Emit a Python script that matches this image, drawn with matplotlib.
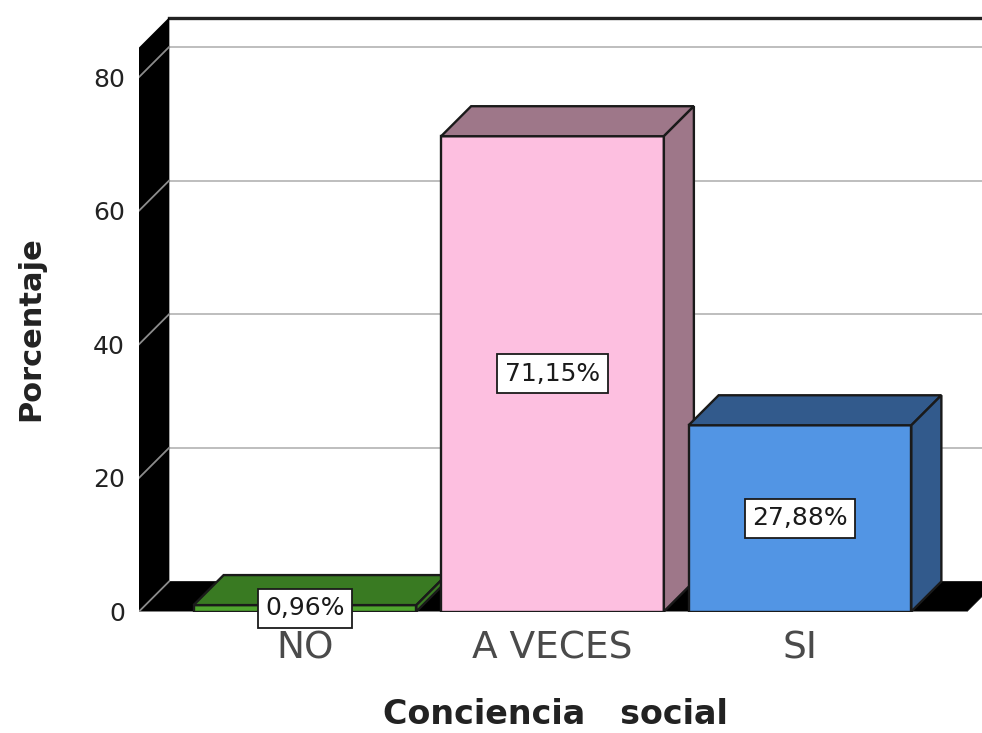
"""Porcentaje por nivel de conciencia social, SPSS style 3D bars."""

import matplotlib

matplotlib.use("Agg")
import matplotlib.pyplot as plt
from matplotlib.patches import Polygon

categories = ["NO", "A VECES", "SI"]
percentages = [0.96, 71.15, 27.88]
value_labels = ["0,96%", "71,15%", "27,88%"]
y_ticks = [0, 20, 40, 60, 80]

FRONT = ["#4FA52E", "#FDBFE0", "#5295E4"]
SHADE = ["#397A22", "#9E7789", "#325A8C"]
EDGE = "#1a1a1a"
GRID = "#BEBEBE"

W, H = 982, 733
X0, X1 = 139, 982
Y0, Y1 = 611.5, 18
PX_PER_CAT = 247.5
PX_PER_PCT = 6.68
X_CAT0 = 305
BAR_W = 0.9
DX = 30 / PX_PER_CAT
DY = 30 / PX_PER_PCT

plt.rcParams.update({"font.family": ["DejaVu Sans"]})

fig = plt.figure(figsize=(W / 100, H / 100), dpi=100)
ax = fig.add_axes([X0 / W, 1 - Y0 / H, (X1 - X0) / W, (Y0 - Y1) / H])
ax.set_xlim((X0 - X_CAT0) / PX_PER_CAT, (X1 - X_CAT0) / PX_PER_CAT)
ax.set_ylim(0, (Y0 - Y1) / PX_PER_PCT)
for s in ax.spines.values():
    s.set_visible(False)

xl, xr = ax.get_xlim()
ytop = ax.get_ylim()[1]
xb = xl + DX  # back wall

# back wall grid lines and top edge
for t in y_ticks[1:]:
    ax.plot([xb, xr], [t + DY, t + DY], color=GRID, lw=1.4, zorder=1)
ax.plot([xb, xr], [ytop, ytop], color="#222222", lw=2.4, zorder=1, clip_on=False)

# side wall and floor
ax.add_patch(Polygon([(xl, 0), (xb, DY), (xb, ytop), (xl, ytop - DY)], fc="black", ec="black", lw=0.5, zorder=2))
floor_r = (967 - X_CAT0) / PX_PER_CAT
ax.add_patch(Polygon([(xl, 0), (xb, DY), (floor_r + DX, DY), (floor_r, 0)], fc="black", ec="black", lw=0.5, zorder=2))
for t in y_ticks:
    ax.plot([xl, xb], [t, t + DY], color="#8C8C8C", lw=1.3, zorder=3)
ax.plot([xl, floor_r], [0, 0], color="#8C8C8C", lw=1.3, zorder=3)

for i, (val, label) in enumerate(zip(percentages, value_labels)):
    a, b = i - BAR_W / 2, i + BAR_W / 2
    z = 4 + i
    ax.add_patch(Polygon([(a, 0), (b, 0), (b, val), (a, val)], fc=FRONT[i], ec=EDGE, lw=1.7, zorder=z))
    ax.add_patch(Polygon([(a, val), (b, val), (b + DX, val + DY), (a + DX, val + DY)], fc=SHADE[i], ec=EDGE, lw=1.7, zorder=z))
    ax.add_patch(Polygon([(b, 0), (b + DX, DY), (b + DX, val + DY), (b, val)], fc=SHADE[i], ec=EDGE, lw=1.7, zorder=z))
    ax.text(
        i, val / 2, label, ha="center", va="center", fontsize=18, color="#1a1a1a", zorder=10, clip_on=False,
        bbox=dict(boxstyle="square,pad=0.3", fc="white", ec=EDGE, lw=1.3),
    )

ax.set_xticks(range(len(categories)))
ax.set_xticklabels(categories, fontsize=27, color="#4a4a4a")
ax.tick_params(axis="x", length=0, pad=14)
ax.set_yticks(y_ticks)
ax.set_yticklabels([str(t) for t in y_ticks], fontsize=18, color="#222222")
ax.tick_params(axis="y", length=0, pad=10)

fig.text(555 / W, 1 - 714 / H, "Conciencia   social", ha="center", va="center", fontsize=24, fontweight="bold", color="#222222")
fig.text(31 / W, 1 - 329 / H, "Porcentaje", ha="center", va="center", rotation=90, fontsize=22, fontweight="bold", color="#222222")

fig.savefig("out.png", dpi=100, facecolor="white")
